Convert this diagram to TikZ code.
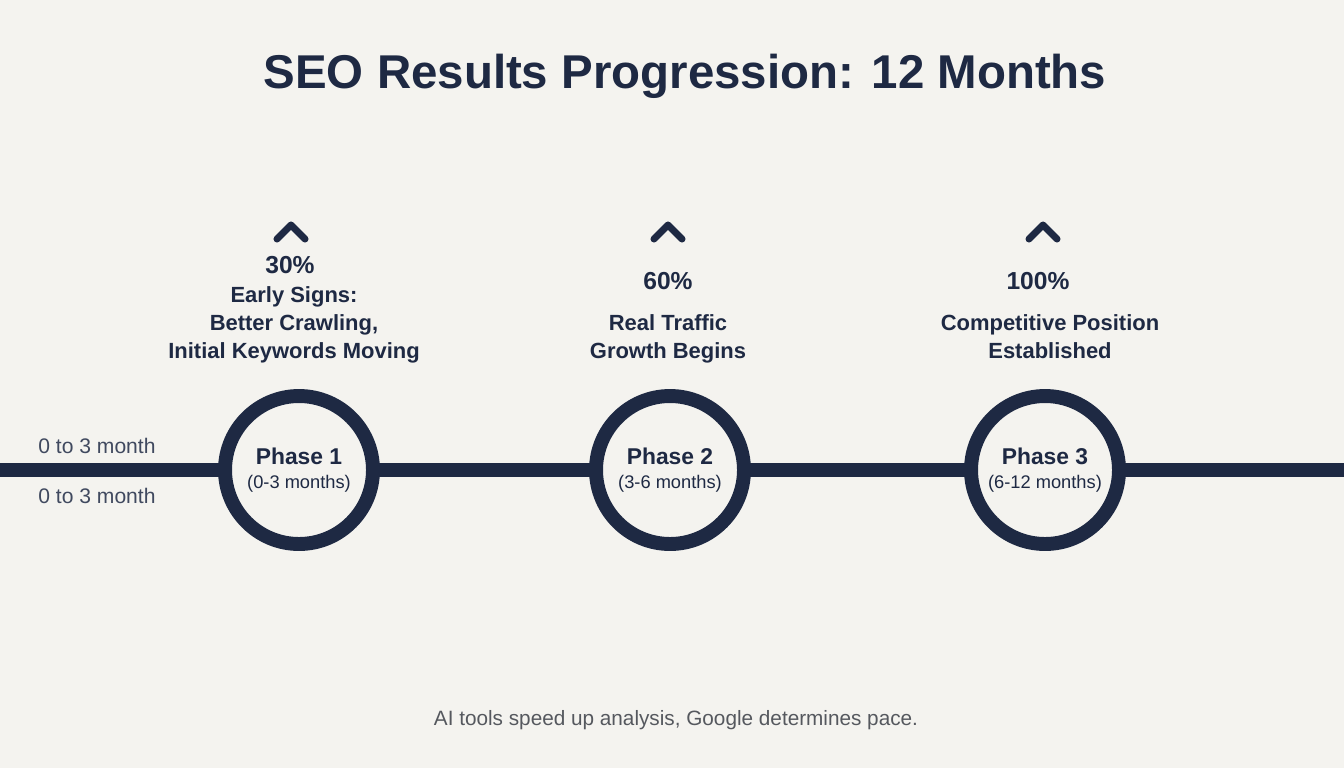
\documentclass[tikz,border=0pt]{standalone}
\usepackage{fontspec}
\setmainfont{Liberation Sans}
\usetikzlibrary{arrows.meta}
\definecolor{navy}{HTML}{1E2943}
\definecolor{paper}{HTML}{F4F3EF}
\definecolor{greytext}{HTML}{55585E}

\begin{document}
\begin{tikzpicture}[x=0.02cm,y=-0.02cm]
\useasboundingbox (0,0) rectangle (1344,768);
\fill[paper] (0,0) rectangle (1344,768);
\begin{scope}[every node/.style={text=navy,inner sep=0pt}]
    \node[anchor=base,font=\fontsize{27}{32}\selectfont\bfseries] (T) at (685,88) {SEO Results Progression: 12 Months};

    \coordinate (L) at (0,470);
    \coordinate (R) at (1344,470);

    \node (A) at (299,470) {};
    \node (B) at (670,470) {};
    \node (C) at (1045,470) {};

    \coordinate (a) at (291,232);
    \coordinate (b) at (668,232);
    \coordinate (c) at (1043,232);

    \node[anchor=base,font=\fontsize{14}{16}\selectfont\bfseries] (D) at (290,273) {30\%};
    \node[anchor=base,font=\fontsize{14}{16}\selectfont\bfseries] (E) at (668,289) {60\%};
    \node[anchor=base,font=\fontsize{14}{16}\selectfont\bfseries] (F) at (1038,289) {100\%};

    % multi-line: base is the last line
    \node[anchor=base,font=\fontsize{12.5}{15.9}\selectfont\bfseries,align=center] (G) at (294,358)
        {Early Signs:\\Better Crawling,\\Initial Keywords Moving};
    \node[anchor=base,font=\fontsize{12.5}{15.9}\selectfont\bfseries,align=center] (H) at (668,358)
        {Real Traffic\\Growth Begins};
    \node[anchor=base,font=\fontsize{12.5}{15.9}\selectfont\bfseries,align=center] (I) at (1050,358)
        {Competitive Position\\Established};

    \node[anchor=base west,font=\fontsize{12}{14}\selectfont,text=navy!85] (J) at (38,453) {0 to 3 month};
    \node[anchor=base west,font=\fontsize{12}{14}\selectfont,text=navy!85] (K) at (38,503) {0 to 3 month};

    \node[anchor=base,font=\fontsize{11.8}{14}\selectfont,text=greytext] (M) at (676,725)
        {AI tools speed up analysis, Google determines pace.};
\end{scope}

\begin{scope}[every edge/.style={draw=navy,line width=7.94pt}]
    \path [-] (L) edge (A);
    \path [-] (A) edge (B);
    \path [-] (B) edge (C);
    \path [-] (C) edge (R);
\end{scope}

\begin{scope}[every node/.style={circle,draw=navy,fill=paper,line width=7.94pt,
              minimum size=2.96cm,inner sep=0pt,text=navy,align=center}]
    \node at (A) {{\fontsize{13}{15}\selectfont\bfseries Phase 1}\\[2pt]{\fontsize{10.4}{12}\selectfont (0-3 months)}};
    \node at (B) {{\fontsize{13}{15}\selectfont\bfseries Phase 2}\\[2pt]{\fontsize{10.4}{12}\selectfont (3-6 months)}};
    \node at (C) {{\fontsize{13}{15}\selectfont\bfseries Phase 3}\\[2pt]{\fontsize{10.4}{12}\selectfont (6-12 months)}};
\end{scope}

\begin{scope}[draw=navy,line width=4pt,line cap=round,line join=round]
    \draw ([shift={(-14,7)}]a) -- ([shift={(0,-7)}]a) -- ([shift={(14,7)}]a);
    \draw ([shift={(-14,7)}]b) -- ([shift={(0,-7)}]b) -- ([shift={(14,7)}]b);
    \draw ([shift={(-14,7)}]c) -- ([shift={(0,-7)}]c) -- ([shift={(14,7)}]c);
\end{scope}
\end{tikzpicture}
\end{document}
